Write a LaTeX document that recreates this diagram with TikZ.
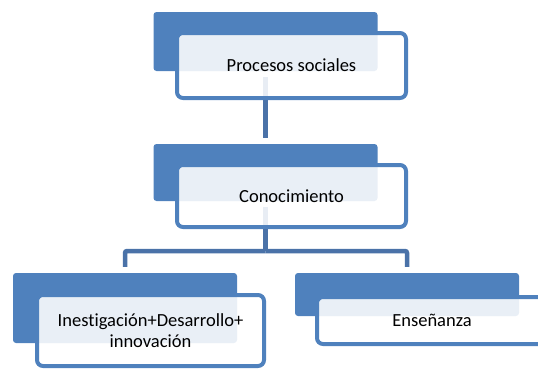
\documentclass[tikz,border=0pt]{standalone}
\usepackage{fontspec}
\setmainfont{Carlito}[Ligatures=NoCommon]
\usetikzlibrary{backgrounds}
\definecolor{accent}{HTML}{4F81BD}
\definecolor{linkblue}{HTML}{4A72A8}
\tikzset{
  back/.style={fill=accent, rounded corners=3pt, minimum width=224pt, inner sep=0pt},
  card/.style={draw=accent, line width=4pt, fill=white, fill opacity=0.88,
    text opacity=1, rounded corners=6pt, minimum width=229pt, align=center,
    inner sep=0pt, font=\fontsize{18.5}{21.5}\selectfont},
  link/.style={draw=linkblue, line width=4.5pt, rounded corners=2pt}
}
\begin{document}
\begin{tikzpicture}[x=1pt,y=-1pt]
    \useasboundingbox (0,0) rectangle (538,370);
    \clip (0,0) rectangle (538,370);
    % top level
    \node[back, minimum height=59pt] (procB) at (265.5,41.5) {};
    \node[card, minimum height=65pt] (proc) at (291.5,65.5) {Procesos sociales};
    % second level
    \node[back, minimum height=57pt] (conoB) at (265.5,172.5) {};
    \node[card, minimum height=62pt] (cono) at (291.5,196) {Conocimiento};
    % third level
    \node[back, minimum height=70pt] (invB) at (125,308) {};
    \node[card, minimum width=227pt, minimum height=71pt] (inv) at (150.5,330.5)
        {Inestigación+Desarrollo+\\innovación};
    \node[back, minimum height=43pt] (ensB) at (407,294.5) {};
    \node[card, minimum width=230pt, minimum height=47pt] (ens) at (432,320.5) {Enseñanza};
    % connectors behind the boxes
    \begin{scope}[on background layer]
        \coordinate (bar) at (265.5,251);
        \draw[link, shorten <=6pt, shorten >=6pt] (procB.south) -- (conoB.north);
        \draw[link, shorten <=6pt] (conoB.south) -- (bar);
        \draw[link, shorten >=6pt] (bar) -| (invB.north);
        \draw[link, shorten >=6pt] (bar) -| (ensB.north);
    \end{scope}
\end{tikzpicture}
\end{document}
